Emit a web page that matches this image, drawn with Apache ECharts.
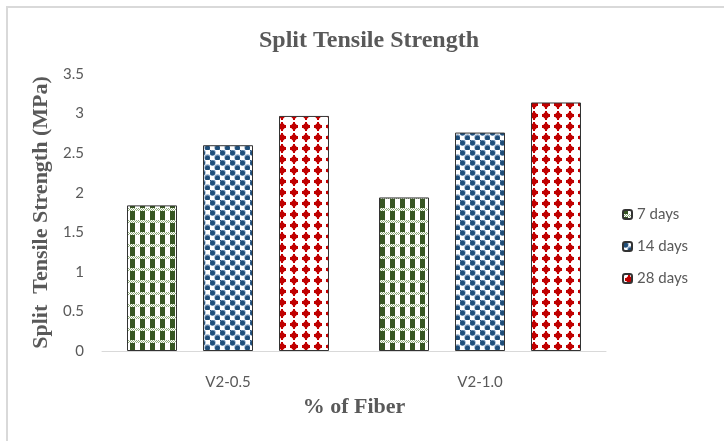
<!DOCTYPE html>
<html>
<head>
<meta charset="utf-8">
<script src="https://cdn.jsdelivr.net/npm/echarts@6/dist/echarts.min.js"></script>
<style>html,body{margin:0;padding:0;background:#fff}#c{width:724px;height:441px}</style>
</head>
<body>
<div id="c"></div>
<script>
const categories = ['V2-0.5', 'V2-1.0'];
const seriesNames = ['7 days', '14 days', '28 days'];
const days7 = [1.84, 1.94];
const days14 = [2.60, 2.76];
const days28 = [2.97, 3.14];
const yTicks = [0, 0.5, 1, 1.5, 2, 2.5, 3, 3.5];

function makeTile(w, h, draw) {
  const c = document.createElement('canvas');
  c.width = w; c.height = h;
  const ctx = c.getContext('2d');
  ctx.fillStyle = '#ffffff';
  ctx.fillRect(0, 0, w, h);
  draw(ctx);
  return { image: c, repeat: 'repeat' };
}
const greenPat = makeTile(10, 12, ctx => {
  ctx.fillStyle = '#375623';
  ctx.fillRect(0, 0, 5, 12);
  ctx.fillStyle = '#ffffff';
  ctx.fillRect(0, 4, 10, 3);
  ctx.fillStyle = '#8faa7c';
  for (let x = 0; x < 10; x += 2) { ctx.fillRect(x, 4, 1, 1); ctx.fillRect(x + 1, 5, 1, 1); ctx.fillRect(x, 6, 1, 1); }
});
const bluePat = makeTile(10, 10, ctx => {
  const pts = [[2.5, 2.5], [7.5, 7.5]];
  ctx.fillStyle = '#8aa6c6';
  pts.forEach(p => { ctx.beginPath(); ctx.arc(p[0], p[1], 3.2, 0, Math.PI * 2); ctx.fill(); });
  ctx.fillStyle = '#1f4e79';
  pts.forEach(p => { ctx.beginPath(); ctx.arc(p[0], p[1] + 0.4, 2.5, 0, Math.PI * 2); ctx.fill(); });
  ctx.fillStyle = '#1f4e79';
  ctx.fillRect(0, 0, 1, 1);
});
const redPat = makeTile(12, 11, ctx => {
  ctx.fillStyle = '#f2b3b3';
  ctx.fillRect(3, 2, 6, 7);
  ctx.fillStyle = '#ffffff';
  ctx.fillRect(3, 2, 1, 1); ctx.fillRect(8, 2, 1, 1); ctx.fillRect(3, 8, 1, 1); ctx.fillRect(8, 8, 1, 1);
  ctx.fillStyle = '#c00000';
  ctx.fillRect(4, 3, 4, 5);
  ctx.fillRect(5, 1, 2, 9);
  ctx.fillRect(2, 4, 8, 3);
});
const patterns = [greenPat, bluePat, redPat];
const values = [days7, days14, days28];

const chart = echarts.init(document.getElementById('c'), null, { renderer: 'canvas' });
const serif = '"Liberation Serif", "DejaVu Serif", serif';
const sans = 'Lato, "Liberation Sans", sans-serif';
chart.setOption({
  animation: false,
  backgroundColor: '#ffffff',
  title: {
    text: 'Split Tensile Strength',
    left: 364, top: 24, textAlign: 'center',
    textStyle: { fontFamily: serif, fontWeight: 'bold', fontSize: 24, color: '#595959' }
  },
  graphic: [{
    type: 'rect', shape: { x: 7, y: 7, width: 1000, height: 1000 },
    style: { fill: 'none', stroke: '#d9d9d9', lineWidth: 2 }, silent: true
  }],
  legend: {
    orient: 'vertical', left: 617, top: 202,
    itemWidth: 9, itemHeight: 9, itemGap: 17,
    textStyle: { fontFamily: sans, fontSize: 15, color: '#595959' },
    data: seriesNames
  },
  grid: { left: 102, right: 118, top: 74, bottom: 90 },
  xAxis: {
    type: 'category', data: categories,
    axisLine: { lineStyle: { color: '#d9d9d9', width: 1 } },
    axisTick: { show: false },
    axisLabel: { fontFamily: sans, fontSize: 15, color: '#595959', margin: 24 },
    name: '% of Fiber', nameLocation: 'middle', nameGap: 45,
    nameTextStyle: { fontFamily: serif, fontWeight: 'bold', fontSize: 22, color: '#595959' }
  },
  yAxis: {
    type: 'value', min: 0, max: 3.5, interval: 0.5,
    axisLine: { show: false }, axisTick: { show: false },
    splitLine: { show: false },
    axisLabel: { fontFamily: sans, fontSize: 15, color: '#595959', margin: 18,
      formatter: v => { const t = yTicks.find(x => Math.abs(x - v) < 1e-9); return t === undefined ? '' : String(t); } },
    name: 'Split  Tensile Strength (MPa)', nameLocation: 'middle', nameGap: 49,
    nameTextStyle: { fontFamily: serif, fontWeight: 'bold', fontSize: 22, color: '#595959' }
  },
  series: seriesNames.map((n, i) => ({
    name: n, type: 'bar', data: values[i],
    barWidth: 50, barGap: '52%', barCategoryGap: '20%',
    itemStyle: { color: patterns[i], borderColor: '#333333', borderWidth: 1 }
  }))
});
</script>
</body>
</html>
